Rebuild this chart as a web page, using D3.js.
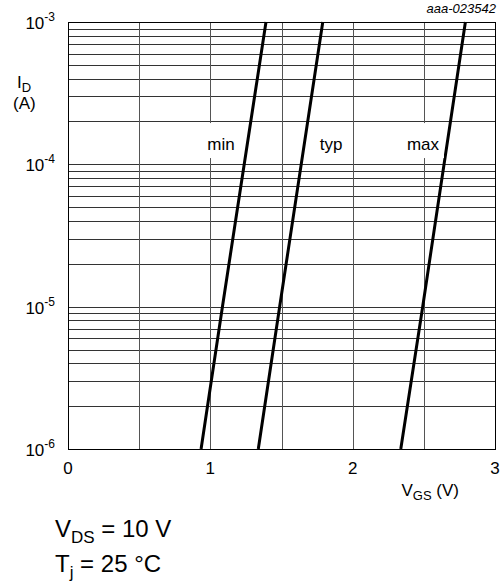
<!DOCTYPE html>
<html>
<head>
<meta charset="utf-8">
<script src="https://cdn.jsdelivr.net/npm/d3@7"></script>
<style>
  html, body { margin: 0; padding: 0; background: #fff; }
  svg { display: block; font-family: "Liberation Sans", Arial, sans-serif; }
</style>
</head>
<body>
<div id="chart"></div>
<script>
// Drain current vs gate-source voltage (log scale)

// Curves: I_D levels and matching V_GS
const idLevels = [1e-6, 1e-5, 1e-3];
const vgsMin = [0.935, 1.085, 1.391];
const vgsTyp = [1.337, 1.487, 1.790];
const vgsMax = [2.338, 2.492, 2.792];

const curveNames = ['min', 'typ', 'max'];
const labelVgs = [1.075, 1.848, 2.494];
const labelId = 1.26e-4;

const xTicks = [0, 1, 2, 3];
const xGrid = [0, 0.5, 1, 1.5, 2, 2.5, 3];
const yDecades = [-6, -5, -4, -3];

const width = 503;
const height = 583;
const margin = { top: 22, right: 8, bottom: 134, left: 68 };

const svg = d3.select('#chart')
  .append('svg')
  .attr('width', width)
  .attr('height', height);

const x = d3.scaleLinear()
  .domain([0, 3])
  .range([margin.left, width - margin.right]);

const y = d3.scaleLog()
  .domain([1e-6, 1e-3])
  .range([height - margin.bottom, margin.top]);

const px = v => Math.round(v) + 0.5;

// Horizontal gridlines: 1..9 per decade
const hLines = [];
for (let e = -6; e < -3; e++) {
  for (let k = 1; k <= 9; k++) hLines.push(k * Math.pow(10, e));
}
hLines.push(1e-3);

const grid = svg.append('g').attr('class', 'grid');

grid.selectAll('line.h')
  .data(hLines)
  .enter().append('line')
  .attr('class', 'h')
  .attr('x1', x(0)).attr('x2', x(3))
  .attr('y1', d => px(y(d))).attr('y2', d => px(y(d)))
  .attr('stroke', '#333')
  .attr('stroke-width', 1);

grid.selectAll('line.v')
  .data(xGrid)
  .enter().append('line')
  .attr('class', 'v')
  .attr('x1', d => px(x(d))).attr('x2', d => px(x(d)))
  .attr('y1', y(1e-3)).attr('y2', y(1e-6))
  .attr('stroke', '#555')
  .attr('stroke-width', 1);

// Curves
const curves = [vgsMin, vgsTyp, vgsMax];
const line = d3.line()
  .x(d => x(d[0]))
  .y(d => y(d[1]));

svg.append('g')
  .selectAll('path')
  .data(curves)
  .enter().append('path')
  .attr('d', vs => line(vs.map((v, i) => [v, idLevels[i]])))
  .attr('fill', 'none')
  .attr('stroke', '#000')
  .attr('stroke-width', 3);

// Curve labels on white boxes
const labels = svg.append('g');
curveNames.forEach((name, i) => {
  const cx = x(labelVgs[i]);
  const by = y(labelId);
  labels.append('rect')
    .attr('x', cx - 21)
    .attr('y', by - 27)
    .attr('width', 42)
    .attr('height', 35)
    .attr('fill', '#fff');
  labels.append('text')
    .attr('x', cx)
    .attr('y', by)
    .attr('text-anchor', 'middle')
    .attr('font-size', 17)
    .attr('fill', '#000')
    .text(name);
});

// X tick labels
svg.append('g')
  .selectAll('text')
  .data(xTicks)
  .enter().append('text')
  .attr('x', d => x(d))
  .attr('y', y(1e-6) + 25)
  .attr('text-anchor', 'middle')
  .attr('font-size', 17)
  .text(d => d);

// Y tick labels 10^n
const yLab = svg.append('g');
yDecades.forEach(e => {
  const t = yLab.append('text')
    .attr('x', 55)
    .attr('y', y(Math.pow(10, e)) + 7)
    .attr('text-anchor', 'end')
    .attr('font-size', 17);
  t.append('tspan').text('10');
  t.append('tspan')
    .attr('font-size', 12)
    .attr('dy', -8)
    .text(e);
});

// Axis titles
const idTitle = svg.append('text')
  .attr('x', 17)
  .attr('y', 88)
  .attr('font-size', 17);
idTitle.append('tspan').text('I');
idTitle.append('tspan').attr('font-size', 13).attr('dy', 4).text('D');

svg.append('text')
  .attr('x', 13)
  .attr('y', 109)
  .attr('font-size', 17)
  .text('(A)');

const vgsTitle = svg.append('text')
  .attr('x', 459)
  .attr('y', 496)
  .attr('text-anchor', 'end')
  .attr('font-size', 17);
vgsTitle.append('tspan').text('V');
vgsTitle.append('tspan').attr('font-size', 13).attr('dy', 4).text('GS');
vgsTitle.append('tspan').attr('dy', -4).text(' (V)');

// Figure id
svg.append('text')
  .attr('x', 496)
  .attr('y', 13)
  .attr('text-anchor', 'end')
  .attr('font-size', 13)
  .attr('font-style', 'italic')
  .text('aaa-023542');

// Conditions
const cond1 = svg.append('text')
  .attr('x', 55)
  .attr('y', 537)
  .attr('font-size', 24);
cond1.append('tspan').text('V');
cond1.append('tspan').attr('font-size', 17).attr('dy', 6).text('DS');
cond1.append('tspan').attr('dy', -6).text(' = 10 V');

const cond2 = svg.append('text')
  .attr('x', 55)
  .attr('y', 572)
  .attr('font-size', 24);
cond2.append('tspan').text('T');
cond2.append('tspan').attr('font-size', 17).attr('dy', 6).text('j');
cond2.append('tspan').attr('dy', -6).text(' = 25 °C');

// Frame
svg.append('rect')
  .attr('x', px(x(0)))
  .attr('y', px(y(1e-3)))
  .attr('width', Math.round(x(3)) - Math.round(x(0)))
  .attr('height', Math.round(y(1e-6)) - Math.round(y(1e-3)))
  .attr('fill', 'none')
  .attr('stroke', '#000')
  .attr('stroke-width', 1);
</script>
</body>
</html>
